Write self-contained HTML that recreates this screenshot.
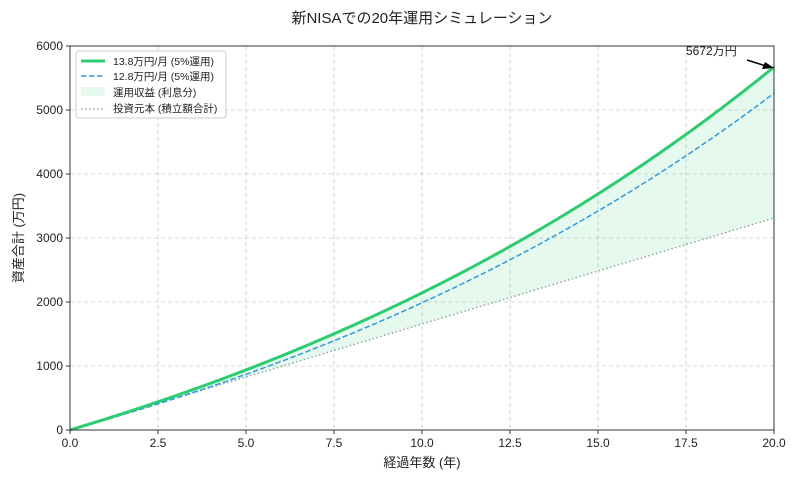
<!DOCTYPE html>
<html><head><meta charset="utf-8"><style>
body{margin:0;background:#fff}
text{font-family:"Liberation Sans","Noto Sans CJK JP",sans-serif;fill:#222}
</style></head><body>
<svg id="s" width="800" height="480" xmlns="http://www.w3.org/2000/svg">
<text x="422" y="23" font-size="15" text-anchor="middle">新NISAでの20年運用シミュレーション</text>
<g id="grid" stroke="#ccc" stroke-dasharray="4,3" stroke-width="0.8"></g>
<path id="fill" fill="#2ecc71" fill-opacity="0.12" stroke="none"/>
<path id="prin" fill="none" stroke="#95a5a6" stroke-width="1.5" stroke-dasharray="1.5,2.5"/>
<path id="blue" fill="none" stroke="#3498db" stroke-width="1.5" stroke-dasharray="5.5,2.5"/>
<path id="green" fill="none" stroke="#2ecc71" stroke-width="3"/>
<rect x="70" y="46" width="704" height="384" fill="none" stroke="#333" stroke-width="1"/>
<g id="ticks" font-size="12"></g>
<text x="422" y="467" font-size="13" text-anchor="middle">経過年数 (年)</text>
<text transform="translate(23,238) rotate(-90)" font-size="13" text-anchor="middle">資産合計 (万円)</text>
<text x="686" y="55" font-size="12">5672万円</text>
<line x1="747" y1="60" x2="766" y2="66" stroke="#000" stroke-width="1.5"/>
<polygon points="774,68 762,69 765,62" fill="#000"/>
<rect x="76" y="51" width="150" height="67" rx="3" fill="#fff" fill-opacity="0.85" stroke="#ccc"/>
<line x1="81" y1="61" x2="105" y2="61" stroke="#2ecc71" stroke-width="3"/>
<line x1="81" y1="76" x2="105" y2="76" stroke="#3498db" stroke-width="1.5" stroke-dasharray="5.5,2.5"/>
<rect x="81" y="87" width="24" height="9" fill="#2ecc71" fill-opacity="0.12"/>
<line x1="81" y1="109" x2="105" y2="109" stroke="#95a5a6" stroke-width="1.5" stroke-dasharray="1.5,2.5"/>
<text x="113" y="65" font-size="10.5">13.8万円/月 (5%運用)</text>
<text x="113" y="80" font-size="10.5">12.8万円/月 (5%運用)</text>
<text x="113" y="96" font-size="10.5">運用収益 (利息分)</text>
<text x="113" y="112" font-size="10.5">投資元本 (積立額合計)</text>
</svg>
<script>
var X=t=>70+t*35.2,Y=v=>430-v*0.064,r=0.05/12;
function fv(p,m){return m==0?0:p*(Math.pow(1+r,m)-1)/r}
var g="",b="",pr="",ga=[],pa=[];
for(var m=0;m<=240;m++){var t=m/12;
var a=X(t).toFixed(2);
ga.push(a+","+Y(fv(13.8,m)).toFixed(2));
b+=(m?"L":"M")+a+","+Y(fv(12.8,m)).toFixed(2);
pa.push(a+","+Y(13.8*m).toFixed(2));}
document.getElementById("green").setAttribute("d","M"+ga.join("L"));
document.getElementById("blue").setAttribute("d",b);
document.getElementById("prin").setAttribute("d","M"+pa.join("L"));
document.getElementById("fill").setAttribute("d","M"+ga.join("L")+"L"+pa.reverse().join("L")+"Z");
var gr="",tk="";
for(var i=0;i<=8;i++){var x=X(i*2.5);if(i>0&&i<8)gr+='<line x1="'+x+'" y1="46" x2="'+x+'" y2="430"/>';
tk+='<line x1="'+x+'" y1="430" x2="'+x+'" y2="434" stroke="#333"/><text x="'+x+'" y="447" text-anchor="middle">'+(i*2.5).toFixed(1)+'</text>';}
for(var j=0;j<=6;j++){var y=Y(j*1000);if(j>0&&j<6)gr+='<line x1="70" y1="'+y+'" x2="774" y2="'+y+'"/>';
tk+='<line x1="66" y1="'+y+'" x2="70" y2="'+y+'" stroke="#333"/><text x="63" y="'+(y+4)+'" text-anchor="end">'+j*1000+'</text>';}
document.getElementById("grid").innerHTML=gr;
document.getElementById("ticks").innerHTML=tk;
</script>
</body></html>
